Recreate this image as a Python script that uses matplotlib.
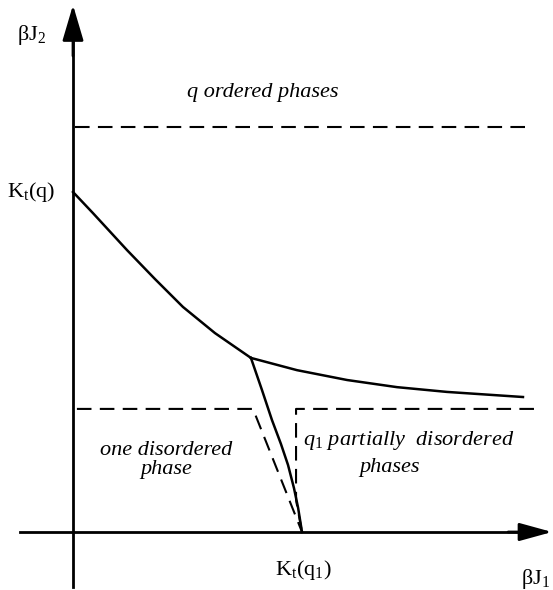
import matplotlib
matplotlib.use("Agg")
import matplotlib.pyplot as plt

plt.rcParams['font.family'] = ['Liberation Serif', 'DejaVu Serif']
plt.rcParams['mathtext.fontset'] = 'custom'
plt.rcParams['mathtext.rm'] = 'Liberation Serif'
plt.rcParams['mathtext.it'] = 'Liberation Serif:italic'

# Data (units: beta J1 relative to K_t(q1); beta J2 relative to K_t(q))
upper_x = [0.0, 0.087, 0.236, 0.358, 0.480, 0.620, 0.777]
upper_y = [1.0, 0.938, 0.829, 0.744, 0.662, 0.585, 0.512]
right_x = [0.777, 0.978, 1.197, 1.415, 1.633, 1.965]
right_y = [0.512, 0.476, 0.447, 0.426, 0.412, 0.397]
mid_x = [0.777, 0.825, 0.869, 0.908, 0.939, 0.965, 0.983, 1.0]
mid_y = [0.512, 0.418, 0.329, 0.259, 0.197, 0.129, 0.071, 0.0]
top_dash_x = [0.009, 1.983]
top_dash_y = [1.191, 1.191]
left_dash_x = [0.017, 0.786, 1.0]
left_dash_y = [0.362, 0.362, 0.0]
rdash_x = [2.013, 0.974, 0.974, 1.0]
rdash_y = [0.362, 0.362, 0.094, 0.0]

fig = plt.figure(figsize=(5.53, 5.90), dpi=100)
ax = fig.add_axes([0, 0, 1, 1])
ax.set_xlim(-0.3188, 2.0961)
ax.set_ylim(-0.1706, 1.5647)
ax.axis('off')

lw = 1.8
ax.plot(upper_x, upper_y, color='black', lw=lw, solid_joinstyle='round')
ax.plot(right_x, right_y, color='black', lw=lw, solid_joinstyle='round')
ax.plot(mid_x, mid_y, color='black', lw=lw, solid_joinstyle='round')
dash = (7, 4)
for xs, ys in [(top_dash_x, top_dash_y), (left_dash_x, left_dash_y), (rdash_x, rdash_y)]:
    ax.plot(xs, ys, color='black', lw=1.5, dashes=dash)

# axes with arrows
ax.plot([-0.231, 2.0], [0, 0], color='black', lw=2.0)
ax.plot([0, 0], [-0.162, 1.45], color='black', lw=2.0)
ax.annotate('', xy=(2.092, 0), xytext=(1.9, 0),
            arrowprops=dict(arrowstyle='-|>,head_length=2.0,head_width=0.55',
                            mutation_scale=10, color='black', lw=2.0, shrinkA=0, shrinkB=0))
ax.annotate('', xy=(0, 1.55), xytext=(0, 1.40),
            arrowprops=dict(arrowstyle='-|>,head_length=2.2,head_width=0.65',
                            mutation_scale=10, color='black', lw=2.0, shrinkA=0, shrinkB=0))

fs = 16
ax.text(-0.179, 1.462, r'βJ$_2$', fontsize=fs, ha='center', va='center')
ax.text(-0.080, 1.0, r'K$_\mathrm{t}$(q)', fontsize=fs, ha='right', va='center')
ax.text(0.830, 1.294, 'q ordered phases', fontsize=fs, style='italic', ha='center', va='center')
ax.text(0.406, 0.212, 'one disordered\nphase', fontsize=fs, style='italic', ha='center', va='center',
        linespacing=0.95)
ax.text(1.004, 0.268, r'$q_1$ partially  disordered', fontsize=fs, style='italic', ha='left', va='center')
ax.text(1.384, 0.191, 'phases', fontsize=fs, style='italic', ha='center', va='center')
ax.text(1.004, -0.112, r'K$_\mathrm{t}$(q$_1$)', fontsize=fs, ha='center', va='center')
ax.text(1.955, -0.138, r'βJ$_1$', fontsize=fs, ha='left', va='center')

fig.savefig('out.png', dpi=100)
